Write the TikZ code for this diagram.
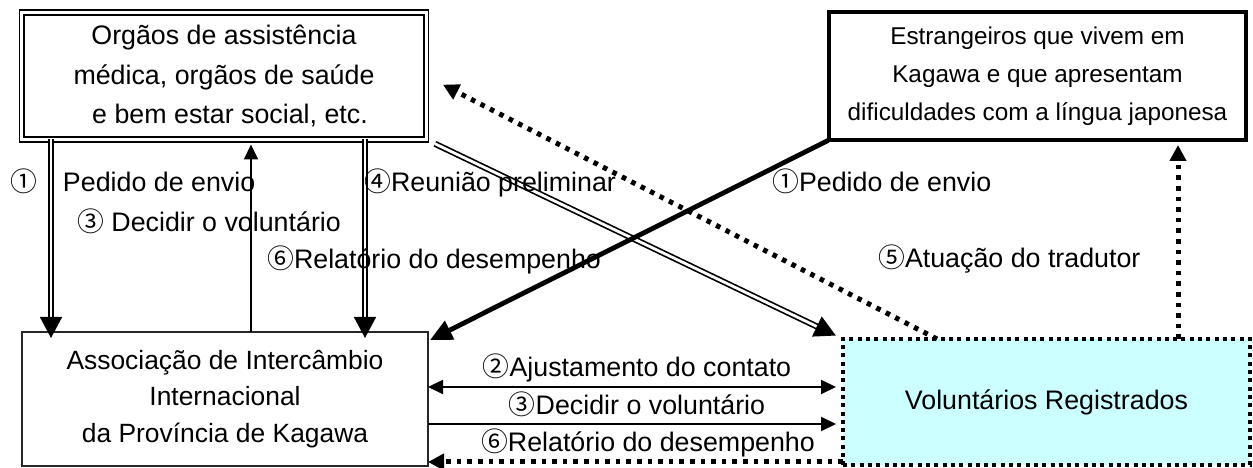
\documentclass[tikz,border=0pt]{standalone}
\usepackage{fontspec}
\setmainfont{Liberation Sans}
\newfontfamily\cjkfont{Noto Sans CJK JP}
\usetikzlibrary{arrows.meta,calc}
\newcommand\cn[1]{{\cjkfont #1}}
\definecolor{volcyan}{RGB}{204,255,255}
\begin{document}
\begin{tikzpicture}[x=1bp,y=-1bp,
  box/.style={inner sep=0pt, outer sep=0pt, align=center},
  lbl/.style={anchor=base west, inner sep=0pt, font=\fontsize{26.8bp}{32bp}\selectfont},
  clbl/.style={anchor=base, inner sep=0pt, font=\fontsize{26.8bp}{32bp}\selectfont},
  dblarr/.style={draw, double, double distance=2.8bp, line width=1.7bp, -{Triangle[length=21bp,width=22bp]}},
  thinarr/.style={draw, line width=2bp, -{Triangle[length=15bp,width=14bp]}},
  dotarr/.style={draw, line width=5bp, dash pattern=on 4.6bp off 6bp, -{Triangle[length=16bp,width=16bp]}},
  thickarr/.style={draw, line width=4.8bp, -{Triangle[length=22bp,width=20bp]}}
]
\useasboundingbox (0,0) rectangle (1253,468);

% boxes
\node[box, draw, double, double distance=3bp, line width=1.8bp,
      minimum width=404bp, minimum height=127bp,
      font=\fontsize{26.8bp}{39.5bp}\selectfont] (A) at (224,76)
  {Orgãos de assistência\\médica, orgãos de saúde\\\hspace*{12bp}e bem estar social, etc.};
\node[box, draw, line width=4bp, minimum width=417bp, minimum height=128bp,
      font=\fontsize{24.3bp}{38bp}\selectfont] (B) at (1037.5,76)
  {Estrangeiros que vivem em\\Kagawa e que apresentam\\dificuldades com a língua japonesa};
\node[box, draw=black!85, line width=1.3bp, minimum width=406bp, minimum height=134bp,
      font=\fontsize{26.4bp}{36.5bp}\selectfont] (C) at (225,399)
  {Associação de Intercâmbio\\Internacional\\da Província de Kagawa};
\node[box, draw, fill=volcyan, line width=4bp, dash pattern=on 4bp off 4.3bp,
      minimum width=407bp, minimum height=126bp,
      font=\fontsize{26.8bp}{32bp}\selectfont] (D) at (1046.5,402)
  {Voluntários Registrados};

% vertical connectors between A and C
\draw[dblarr, shorten >=-6bp] (51,0 |- A.south) -- (C.north -| 51,0);
\draw[thinarr, shorten >=5bp] (251,0 |- C.north) -- (251,0 |- A.south);
\draw[dblarr, shorten >=-6bp] (365,0 |- A.south) -- (C.north -| 365,0);

% diagonals
\draw[dblarr, shorten <=10bp, shorten >=8bp] (A.south east) -- (D.north west);
\draw[dotarr, shorten >=19bp] (937,0 |- D.north) -- (A.east);
\draw[thickarr, shorten <=1bp] (B.south west) -- ($(C.north east)+(2,8)$);
\draw[dotarr, shorten >=5bp] (1178,0 |- D.north) -- (1178,0 |- B.south);

% horizontals between C and D
\draw[thinarr, {Triangle[length=15bp,width=14bp]}-{Triangle[length=15bp,width=14bp]}, shorten >=7bp]
  (C.east |- 0,387) -- (D.west |- 0,387);
\draw[thinarr, shorten >=7bp] (C.east |- 0,424) -- (D.west |- 0,424);
\draw[dotarr] (D.west |- 0,462) -- (C.east |- 0,462);

% labels
\node[lbl] (l1) at (10,192) {\cn{①}\hspace{26bp}Pedido de envio};
\node[lbl] (l2) at (77,232) {\cn{③} Decidir o voluntário};
\node[lbl] (l3) at (267,269) {\cn{⑥}Relatório do desempenho};
\node[lbl] (l4) at (364,192) {\cn{④}Reunião preliminar};
\node[lbl] (l5) at (772,192) {\cn{①}Pedido de envio};
\node[lbl] (l6) at (878,268) {\cn{⑤}Atuação do tradutor};
\node[clbl] (l7) at (637,377) {\cn{②}Ajustamento do contato};
\node[clbl] (l8) at (637,415) {\cn{③}Decidir o voluntário};
\node[clbl] (l9) at (648,452) {\cn{⑥}Relatório do desempenho};
\end{tikzpicture}
\end{document}
